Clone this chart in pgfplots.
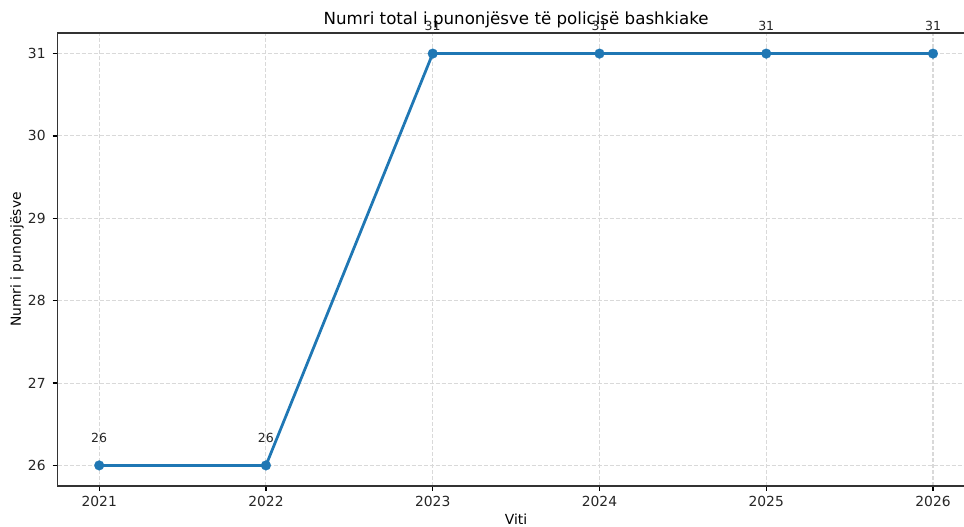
\documentclass[border=0pt]{standalone}
\usepackage{pgfplots}
\pgfplotsset{compat=1.18}
\usepackage{fontspec}
\setmainfont{DejaVu Sans}
\definecolor{mplblue}{HTML}{1F77B4}
\begin{document}
\begin{tikzpicture}
\useasboundingbox (0,0) rectangle (723pt,395.25pt);
\begin{axis}[
  at={(43.125pt,30.75pt)}, anchor=south west,
  scale only axis, width=687.9pt, height=339.75pt,
  xmin=2020.75, xmax=2026.25, ymin=25.75, ymax=31.25,
  xtick={2021,2022,2023,2024,2025,2026}, ytick={26,27,28,29,30,31},
  /pgf/number format/assume math mode=true,
  /pgf/number format/1000 sep={},
  xtick pos=bottom, ytick pos=left,
  tick align=outside,
  major tick length=3.65pt,
  every tick/.style={black, line width=0.83pt},
  axis line style={black!80, line width=0.83pt},
  every tick label/.append style={font=\fontsize{10.4}{12}\selectfont, inner sep=0pt, text=black!85},
  xticklabel style={anchor=north, yshift=-3.5pt},
  yticklabel style={anchor=east, xshift=-5.1pt},
  grid=major,
  major grid style={gray!30, line width=0.8pt, dash pattern=on 3pt off 1.5pt},
  title={Numri total i punonjësve të policisë bashkiake},
  every axis title/.style={at={(0.5,1)}, anchor=base, yshift=6.2pt, font=\fontsize{12.5}{14}\selectfont},
  xlabel={Viti}, ylabel={Numri i punonjësve},
  every axis x label/.style={at={(axis description cs:0.5,-0.0735)}, anchor=center, font=\fontsize{10.4}{12}\selectfont},
  every axis y label/.style={at={(axis description cs:-0.0442,0.5)}, anchor=center, rotate=90, font=\fontsize{10.4}{12}\selectfont},
  clip=false,
]
\addplot[color=mplblue, line width=2.08pt, mark=*, mark size=3.7pt, mark options={solid, fill=mplblue, draw=mplblue, line width=0.1pt},
  nodes near coords,
  every node near coord/.append style={anchor=base, yshift=17.5pt, font=\fontsize{9.4}{11}\selectfont, text=black!85, inner sep=0pt}]
coordinates {
(2021,26) (2022,26) (2023,31) (2024,31) (2025,31) (2026,31)
};
\end{axis}
\end{tikzpicture}
\end{document}
